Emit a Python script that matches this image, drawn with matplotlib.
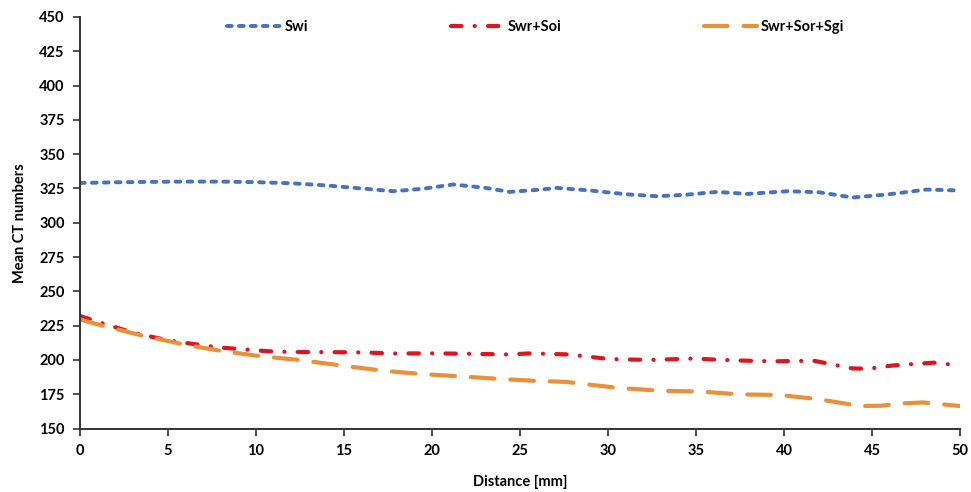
import matplotlib
matplotlib.use("Agg")
import matplotlib.pyplot as plt

plt.rcParams["font.family"] = ["Lato", "DejaVu Sans"]
plt.rcParams["font.weight"] = "bold"
plt.rcParams["lines.scale_dashes"] = False

# Mean CT number profiles along the core
x_swi = [0, 2, 4, 6, 8, 10, 12, 14, 16, 17.8, 19.5, 21.2, 23, 24.4, 26, 27.1, 29, 31, 32.8, 34.5, 36.2, 37.9, 40.2, 42, 43.9, 46, 48.1, 50]
y_swi = [329, 329.5, 329.8, 330, 330, 329.6, 328.8, 327.2, 325, 323, 324.8, 327.9, 325.5, 322.5, 324, 325.4, 323.5, 320.8, 319.3, 320.5, 322.5, 321, 323, 322.2, 318.4, 320.8, 324.2, 323.5]

x_soi = [0, 1.3, 3, 4.9, 6.5, 8, 10.6, 12, 14, 16, 17.8, 20, 22, 24.4, 25.6, 27.8, 30.1, 32.4, 34.8, 37.1, 39.4, 41.7, 43.9, 44.8, 46.2, 48.5, 50]
y_soi = [232, 226.6, 220, 214.5, 211.5, 209, 206.4, 205.8, 205.7, 205.5, 204.7, 204.8, 204.5, 204, 204.8, 204, 200.6, 200, 201, 199.7, 199, 199.4, 193.8, 193.6, 196, 198, 196]

x_sgi = [0, 1.3, 3.6, 5.9, 8.1, 10.2, 12.5, 15, 17.4, 19.7, 22, 24.3, 25.8, 27.6, 30.5, 33, 35.2, 37.5, 39.8, 42, 44.3, 45.5, 46.6, 47.9, 50]
y_sgi = [229.5, 224.9, 217.6, 211.3, 206.4, 202.8, 199.9, 195.7, 191.9, 189.5, 187.7, 185.8, 184.8, 184, 179.7, 177.5, 177, 174.9, 174.4, 171.3, 166.4, 166.6, 168.3, 169, 166.4]

x_ticks = list(range(0, 51, 5))
y_ticks = list(range(150, 451, 25))

fig = plt.figure(figsize=(9.71, 4.92), dpi=100)
ax = fig.add_axes([0.0824, 0.129, 0.9063, 0.8365])

ax.plot(x_swi, y_swi, color="#4472C4", lw=2.8, dashes=(3.4, 5.2),
        dash_capstyle="round", label="Swi")
ax.plot(x_soi, y_soi, color="#E0141E", lw=3.0, dashes=(7.5, 9.5, 0.1, 9.5),
        dash_capstyle="round", label="Swr+Soi")
ax.plot(x_sgi, y_sgi, color="#E8913A", lw=3.0, dashes=(17.0, 11.5),
        dash_capstyle="round", label="Swr+Sor+Sgi")

ax.set_xlim(0, 50)
ax.set_ylim(150, 450)
ax.set_xticks(x_ticks)
ax.set_yticks(y_ticks)
ax.tick_params(direction="out", length=5, width=1.2, color="#333333",
               labelsize=10.5, pad=6)
for s in ("top", "right"):
    ax.spines[s].set_visible(False)
for s in ("left", "bottom"):
    ax.spines[s].set_linewidth(1.4)
    ax.spines[s].set_color("#333333")

ax.set_xlabel("Distance [mm]", fontsize=10.5, fontweight="bold", labelpad=12)
ax.set_ylabel("Mean CT numbers", fontsize=10.5, fontweight="bold", labelpad=9)

leg = ax.legend(loc="upper center", bbox_to_anchor=(0.518, 1.025), ncol=3,
                frameon=False, fontsize=10.5, handlelength=3.6,
                handletextpad=0.3, columnspacing=9.8)

fig.savefig("out.png", dpi=100, facecolor="white")
